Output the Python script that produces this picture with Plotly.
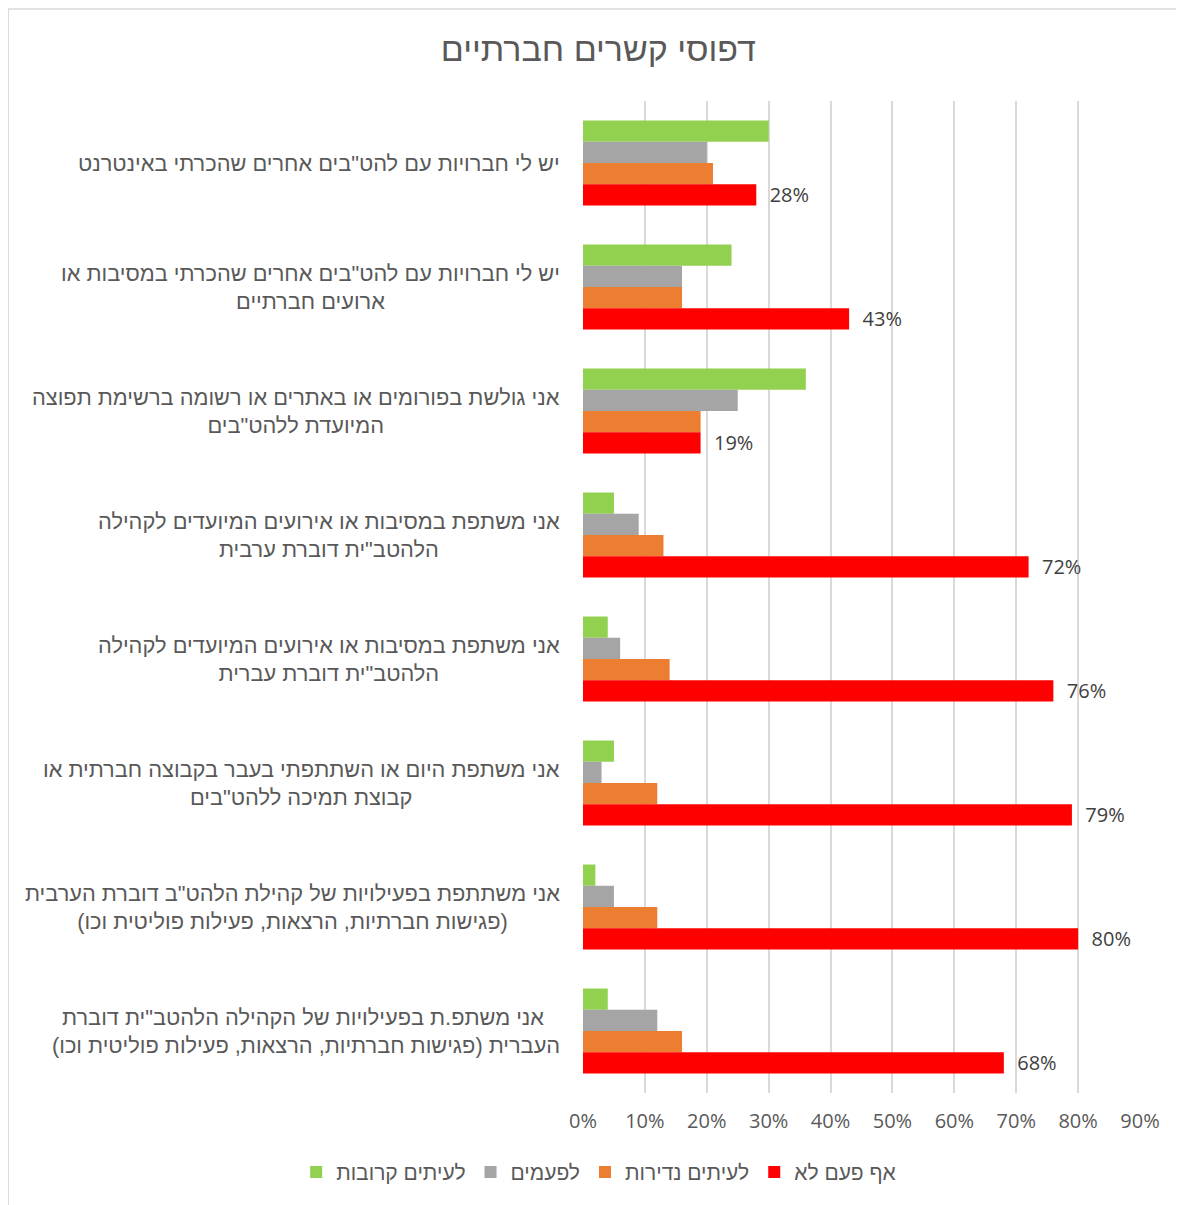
import plotly.graph_objects as go

RLM = "\u200f"

categories = [
    'יש לי חברויות עם להט"בים אחרים שהכרתי באינטרנט',
    'יש לי חברויות עם להט"בים אחרים שהכרתי במסיבות או<br>ארועים חברתיים',
    'אני גולשת בפורומים או באתרים או רשומה ברשימת תפוצה<br>המיועדת ללהט"בים',
    'אני משתפת במסיבות או אירועים המיועדים לקהילה<br>הלהטב"ית דוברת ערבית',
    'אני משתפת במסיבות או אירועים המיועדים לקהילה<br>הלהטב"ית דוברת עברית',
    'אני משתפת היום או השתתפתי בעבר בקבוצה חברתית או<br>קבוצת תמיכה ללהט"בים',
    'אני משתתפת בפעילויות של קהילת הלהט"ב דוברת הערבית<br>(פגישות חברתיות, הרצאות, פעילות פוליטית וכו)',
    ' אני משתפ.ת בפעילויות של הקהילה הלהטב"ית דוברת<br>העברית (פגישות חברתיות, הרצאות, פעילות פוליטית וכו)',
]
cat_ids = [f"c{i}" for i in range(len(categories))]

often = [0.30, 0.24, 0.36, 0.05, 0.04, 0.05, 0.02, 0.04]
sometimes = [0.20, 0.16, 0.25, 0.09, 0.06, 0.03, 0.05, 0.12]
rarely = [0.21, 0.16, 0.19, 0.13, 0.14, 0.12, 0.12, 0.16]
never = [0.28, 0.43, 0.19, 0.72, 0.76, 0.79, 0.80, 0.68]

series = [
    ("לעיתים קרובות", often, "#92d050"),
    ("לפעמים", sometimes, "#a5a5a5"),
    ("לעיתים נדירות", rarely, "#ed7d31"),
    ("אף פעם לא", never, "#ff0000"),
]

font = "Liberation Sans, Arial, DejaVu Sans, sans-serif"
num_font = "Open Sans, Liberation Sans, sans-serif"

fig = go.Figure()
for name, vals, color in series:
    is_never = name == "אף פעם לא"
    fig.add_trace(go.Bar(
        y=cat_ids,
        x=vals,
        name=RLM + name + RLM,
        orientation="h",
        marker=dict(color=color, line=dict(width=0)),
        texttemplate="\u00a0\u00a0%{x:.0%}" if is_never else None,
        textposition="outside" if is_never else "none",
        constraintext="none",
        textfont=dict(size=20, color="#404040", family=num_font),
        cliponaxis=False,
        hoverinfo="x+name",
    ))

# category labels, centred lines like the original
for cid, label in zip(cat_ids, categories):
    fig.add_annotation(
        x=-0.037, xref="paper", y=cid, yref="y",
        text="<br>".join(RLM + part + RLM for part in label.split("<br>")),
        showarrow=False, xanchor="right", yanchor="middle", align="center",
        font=dict(size=21.8, color="#595959", family=font),
    )

# outer chart border
fig.add_shape(type="rect", xref="paper", yref="paper",
              x0=-1.032, x1=1.075, y0=-0.125, y1=1.0927,
              line=dict(color="#d9d9d9", width=1.5), fillcolor="rgba(0,0,0,0)", layer="below")

fig.update_layout(
    width=1176, height=1197,
    barmode="group", bargap=0.315, bargroupgap=0,
    paper_bgcolor="white", plot_bgcolor="white",
    margin=dict(l=575, r=44, t=93, b=112),
    title=dict(text=RLM + "דפוסי קשרים חברתיים" + RLM, x=0.502, xanchor="center",
               y=0.966, yanchor="middle",
               font=dict(size=34, color="#595959", family=font)),
    xaxis=dict(range=[0, 0.9], dtick=0.1, tickformat=".0%",
               showgrid=True, gridcolor="#d9d9d9", gridwidth=1.5,
               zeroline=False, showline=False, ticks="", ticklabelstandoff=14,
               tickfont=dict(size=20, color="#595959", family=num_font)),
    yaxis=dict(autorange="reversed", showticklabels=False, showgrid=False,
               zeroline=False, showline=False, ticks=""),
    legend=dict(orientation="h", xref="paper", yref="paper",
                x=-0.515, xanchor="left", y=-0.08, yanchor="middle",
                font=dict(size=21, color="#595959", family=font),
                itemwidth=30, traceorder="normal"),
    showlegend=True,
)

fig.write_html("out.html")
